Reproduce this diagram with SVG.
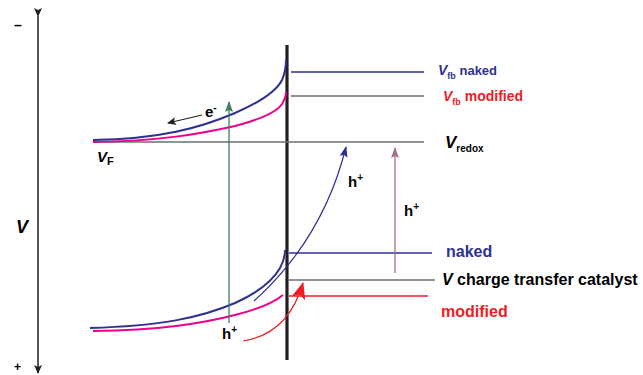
<svg xmlns="http://www.w3.org/2000/svg" width="643" height="375" viewBox="0 0 643 375">
<style>
text{font-family:"Liberation Sans",Arial,sans-serif;font-weight:bold}
.it{font-style:italic}
.band{fill:none;stroke-width:2}
.b{stroke:#2e3192}
.m{stroke:#ec008c}
.g{stroke:#6d6e71;stroke-width:1.3}
</style>
<defs>
<marker id="ak" markerWidth="10" markerHeight="10" refX="8" refY="5" orient="auto" markerUnits="userSpaceOnUse"><path d="M0,1 L9,5 L0,9 L2,5 Z" fill="#231f20"/></marker>
<marker id="ag" markerWidth="12" markerHeight="10" refX="10" refY="5" orient="auto" markerUnits="userSpaceOnUse"><path d="M0,1 L11,5 L0,9 L2,5 Z" fill="#3d7f5e"/></marker>
<marker id="ab" markerWidth="12" markerHeight="10" refX="10" refY="5" orient="auto" markerUnits="userSpaceOnUse"><path d="M0,1 L11,5 L0,9 L2,5 Z" fill="#2e3192"/></marker>
<marker id="am" markerWidth="12" markerHeight="10" refX="10" refY="5" orient="auto" markerUnits="userSpaceOnUse"><path d="M0,1 L11,5 L0,9 L2,5 Z" fill="#a0728a"/></marker>
<marker id="ar" markerWidth="18" markerHeight="14" refX="16" refY="7" orient="auto" markerUnits="userSpaceOnUse"><path d="M0,0 L17,7 L0,14 L4,7 Z" fill="#ed1c24"/></marker>
</defs>

<g id="axis">
<line x1="38" y1="16" x2="38" y2="373" stroke="#231f20" stroke-width="1.5" marker-start="url(#ak)" marker-end="url(#ak)"/>
<text x="14" y="30" font-size="14" font-weight="normal">–</text>
<text x="14" y="371" font-size="12">+</text>
<text class="it" x="16" y="233" font-size="18">V</text>
</g>

<g id="interface">
<line x1="287" y1="45" x2="287" y2="360" stroke="#231f20" stroke-width="3.2"/>
</g>

<g id="levels">
<line class="g" x1="93" y1="142" x2="424" y2="142"/>
<line x1="291" y1="72" x2="424" y2="72" stroke="#2e3192" stroke-width="1.3"/>
<line class="g" x1="291" y1="96" x2="424" y2="96"/>
<line x1="289" y1="253" x2="432" y2="253" stroke="#2e3192" stroke-width="1.6"/>
<line class="g" x1="289" y1="280" x2="435" y2="280"/>
<line x1="289" y1="296" x2="428" y2="296" stroke="#ed1c24" stroke-width="1.6"/>
</g>

<g id="bands">
<path class="band m" d="M93,142 C160,141 200,134 235,126 C258,120 276,113 282,104 C285,99 286,95 286,92"/>
<path class="band b" d="M93,140 C160,139 200,128 235,113 C258,103 276,92 282,80 C285,73 286,66 286,60"/>
<path class="band m" d="M93,331 C160,330 200,324 235,315 C255,310 272,304 283,295"/>
<path class="band b" d="M90,328 C160,326 200,318 235,303 C255,294 272,282 280,268 C284,261 285,255 285,250"/>
</g>

<g id="connectors">
<line x1="202" y1="115" x2="168" y2="123" stroke="#231f20" stroke-width="1.2" marker-end="url(#ak)"/>
<line x1="229" y1="323" x2="229" y2="102" stroke="#3d7f5e" stroke-width="1.3" marker-end="url(#ag)"/>
<path d="M254,301 Q323,239 346,147" fill="none" stroke="#2e3192" stroke-width="1.2" marker-end="url(#ab)"/>
<line x1="395" y1="273" x2="395" y2="148" stroke="#a0728a" stroke-width="1.3" marker-end="url(#am)"/>
<path d="M243,341 Q288,334 303,283" fill="none" stroke="#ed1c24" stroke-width="1.2" marker-end="url(#ar)"/>
</g>

<g id="labels">
<text x="205" y="117" font-size="15">e<tspan dy="-6" font-size="10">-</tspan></text>
<text x="222" y="339" font-size="15">h<tspan dy="-6" font-size="10">+</tspan></text>
<text x="348" y="187" font-size="15">h<tspan dy="-6" font-size="10">+</tspan></text>
<text x="404" y="216" font-size="15">h<tspan dy="-6" font-size="10">+</tspan></text>
<text x="97" y="162" font-size="15"><tspan class="it">V</tspan><tspan font-size="11" dy="3">F</tspan></text>
<text x="438" y="75" font-size="14" fill="#2e3192"><tspan class="it">V</tspan><tspan font-size="9" dy="4">fb</tspan><tspan dy="-4" font-size="13"> naked</tspan></text>
<text x="443" y="101" font-size="14" fill="#ed1c24"><tspan class="it">V</tspan><tspan font-size="9" dy="4">fb</tspan><tspan dy="-4" font-size="14"> modified</tspan></text>
<text x="445" y="148" font-size="17"><tspan class="it">V</tspan><tspan font-size="10" dy="4">redox</tspan></text>
<text x="446" y="257" font-size="16" fill="#2e3192">naked</text>
<text x="442" y="285" font-size="16"><tspan class="it">V</tspan> charge transfer catalyst</text>
<text x="441" y="317" font-size="16" fill="#ed1c24">modified</text>
</g>
</svg>
